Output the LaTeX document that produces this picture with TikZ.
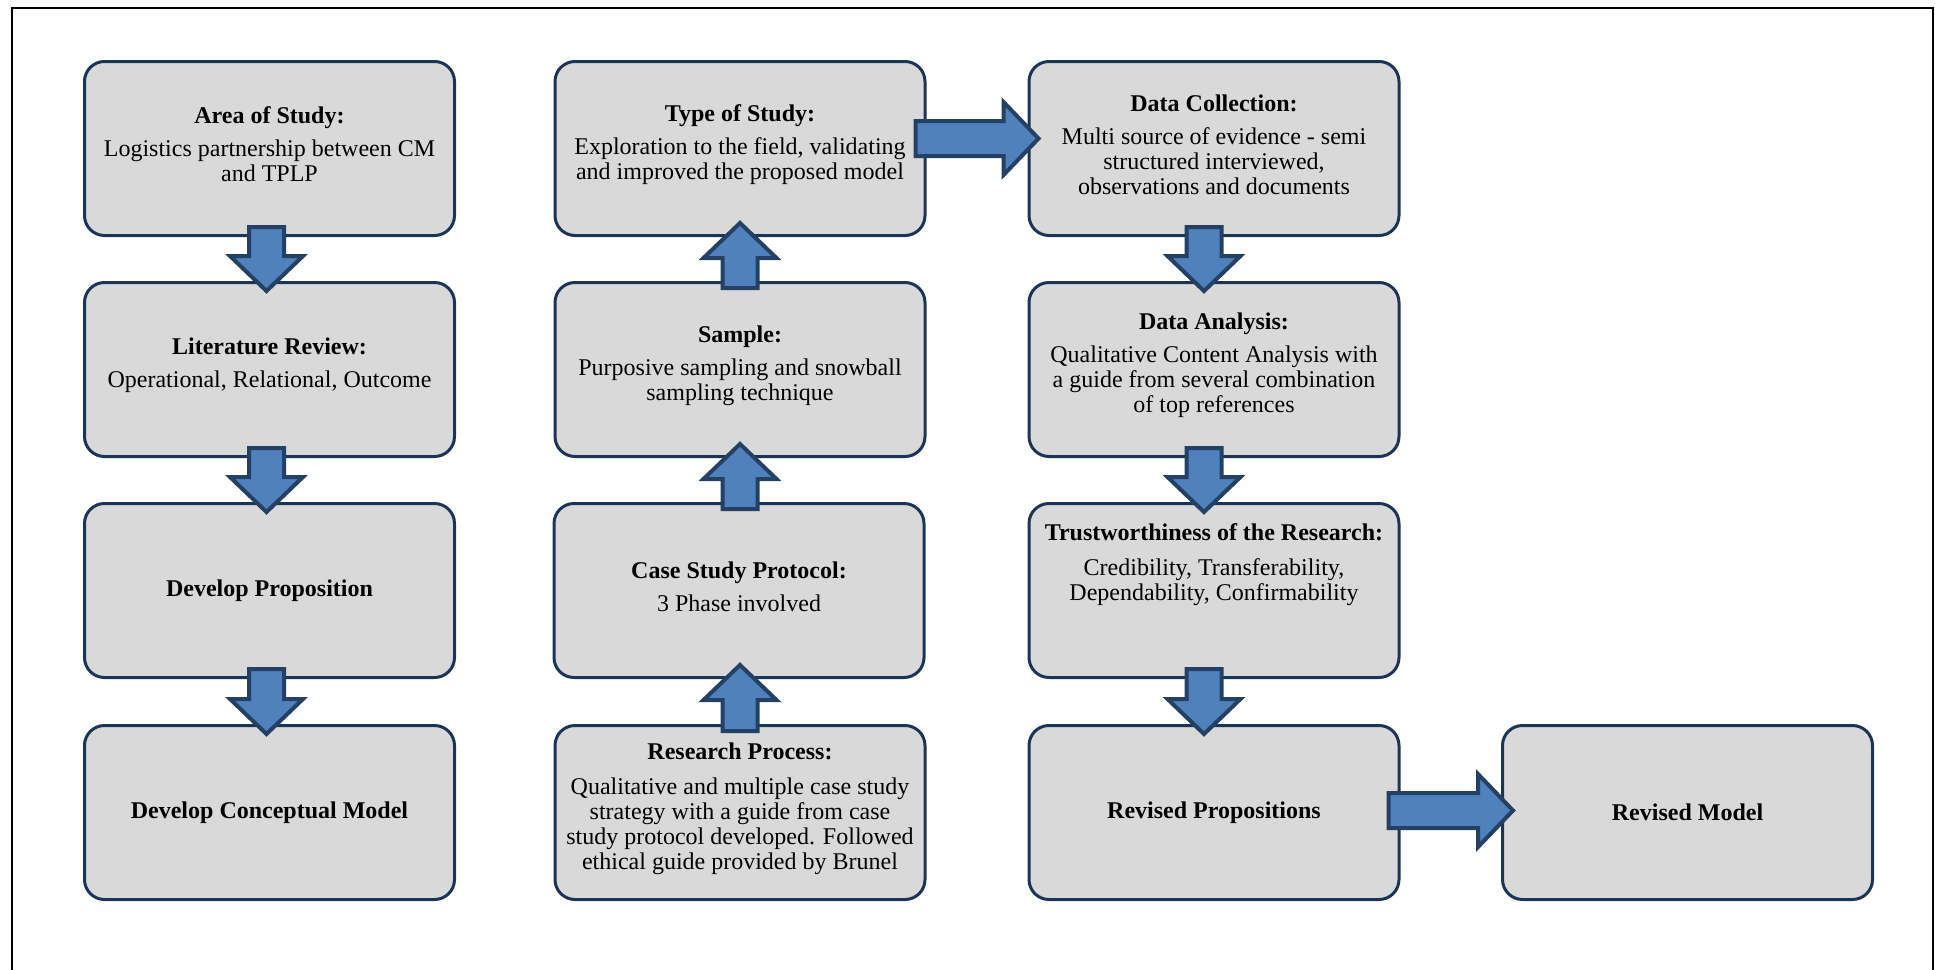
\documentclass[tikz,border=0pt]{standalone}
\usepackage{fontspec}
\setmainfont{Liberation Serif}
\usetikzlibrary{calc}

\definecolor{boxfill}{HTML}{D9D9D9}
\definecolor{boxline}{HTML}{1C3556}
\definecolor{arrowfill}{HTML}{4F81BD}
\definecolor{arrowline}{HTML}{244062}

% Block arrow from point #1 (tail) to point #2 (tip)
\newcommand{\fatarrow}[2]{%
  \path[fatarrowstyle] let \p1=(#1), \p2=(#2),
      \n1={veclen(\x2-\x1,\y2-\y1)}, \n2={atan2(\y2-\y1,\x2-\x1)} in
    [shift={(\p1)}, rotate=\n2]
    (0pt,-8.75pt) -- (\n1-17.5pt,-8.75pt) -- (\n1-17.5pt,-18.25pt) -- (\n1,0pt)
    -- (\n1-17.5pt,18.25pt) -- (\n1-17.5pt,8.75pt) -- (0pt,8.75pt) -- cycle;}

\tikzset{
  flowbox/.style={draw=boxline, fill=boxfill, line width=1.5pt,
    rounded corners=10pt, minimum width=185pt, minimum height=87pt,
    inner sep=0pt},
  boxtext/.style={inner sep=0pt, align=center, yshift=2pt,
    font=\fontsize{12}{12.5}\selectfont},
  onelinetext/.style={boxtext, yshift=-2pt},
  fatarrowstyle/.style={draw=arrowline, fill=arrowfill, line width=2pt, line join=miter},
}

\begin{document}
\begin{tikzpicture}[x=0.5pt, y=-0.5pt]
\useasboundingbox (0,0) rectangle (1935,970);

% outer frame
\draw[black, line width=1pt] (12,980) -- (12,8) -- (1933,8) -- (1933,980);

% boxes
\node[flowbox] (area)     at (269.5,148.5) {};
\node[flowbox] (lit)      at (269.5,369.5) {};
\node[flowbox] (prop)     at (269.5,590.5) {};
\node[flowbox] (concept)  at (269.5,812.5) {};
\node[flowbox] (type)     at (740,148.5) {};
\node[flowbox] (sample)   at (740,369.5) {};
\node[flowbox] (protocol) at (739,590.5) {};
\node[flowbox] (process)  at (740,812.5) {};
\node[flowbox] (collect)  at (1214,148.5) {};
\node[flowbox] (analysis) at (1214,369.5) {};
\node[flowbox] (trust)    at (1214,590.5) {};
\node[flowbox] (revprop)  at (1214,812.5) {};
\node[flowbox] (revmodel) at (1687.5,812.5) {};

% box texts
\node[boxtext] (areatext) at (area)
  {\textbf{Area of Study:}\\[4pt] Logistics partnership between CM\\ and TPLP};
\node[boxtext] (littext) at (lit)
  {\textbf{Literature Review:}\\[4pt] Operational, Relational, Outcome};
\node[onelinetext] (proptext) at (prop) {\textbf{Develop Proposition}};
\node[onelinetext] (concepttext) at (concept) {\textbf{Develop Conceptual Model}};

\node[boxtext] (typetext) at (type)
  {\textbf{Type of Study:}\\[4pt] Exploration to the field, validating\\ and improved the proposed model};
\node[boxtext] (sampletext) at (sample)
  {\textbf{Sample:}\\[4pt] Purposive sampling and snowball\\ sampling technique};
\node[boxtext] (protocoltext) at (protocol)
  {\textbf{Case Study Protocol:}\\[4pt] 3 Phase involved};
\node[boxtext] (processtext) at (process)
  {\textbf{Research Process:}\\[5pt] Qualitative and multiple case study\\ strategy with a guide from case\\ study protocol developed. Followed\\ ethical guide provided by Brunel};

\node[boxtext] (collecttext) at (collect)
  {\textbf{Data Collection:}\\[4pt] Multi source of evidence - semi\\ structured interviewed,\\ observations and documents};
\node[boxtext] (analysistext) at (analysis)
  {\textbf{Data Analysis:}\\[4pt] Qualitative Content Analysis with\\ a guide from several combination\\ of top references};
\node[boxtext, yshift=11pt] (trusttext) at (trust)
  {\textbf{Trustworthiness of the Research:}\\[5pt] Credibility, Transferability,\\ Dependability, Confirmability};
\node[onelinetext] (revproptext) at (revprop) {\textbf{Revised Propositions}};
\node[onelinetext] (revmodeltext) at (revmodel) {\textbf{Revised Model}};

% block arrows, first column
\fatarrow{$(area.south)+(-3,-10)$}{$(lit.north)+(-3,10)$}
\fatarrow{$(lit.south)+(-3,-10)$}{$(prop.north)+(-3,10)$}
\fatarrow{$(prop.south)+(-3,-10)$}{$(concept.north)+(-3,10)$}

% block arrows, second column (upwards)
\fatarrow{$(sample.north)+(0,7)$}{$(type.south)+(0,-14)$}
\fatarrow{$(protocol.north)+(1,7)$}{$(sample.south)+(0,-14)$}
\fatarrow{$(process.north)+(0,7)$}{$(protocol.south)+(1,-14)$}

% block arrows, third column
\fatarrow{$(collect.south)+(-10,-10)$}{$(analysis.north)+(-10,10)$}
\fatarrow{$(analysis.south)+(-10,-10)$}{$(trust.north)+(-10,10)$}
\fatarrow{$(trust.south)+(-10,-10)$}{$(revprop.north)+(-10,10)$}

% horizontal block arrows
\fatarrow{$(type.east)+(-11,-10)$}{$(collect.west)+(11,-10)$}
\fatarrow{$(revprop.east)+(-12,-2)$}{$(revmodel.west)+(12,-2)$}
\end{tikzpicture}
\end{document}
